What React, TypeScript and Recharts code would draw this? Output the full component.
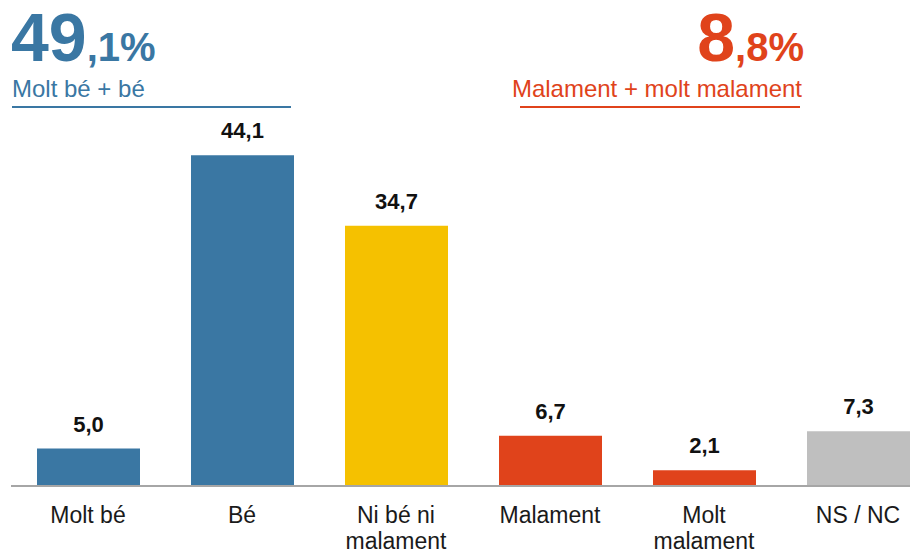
import React from "react";
import { BarChart, Bar, XAxis, YAxis, Cell, LabelList } from "recharts";

const categories = ["Molt bé", "Bé", "Ni bé ni\nmalament", "Malament", "Molt\nmalament", "NS / NC"];
const values = [5.0, 44.1, 34.7, 6.7, 2.1, 7.3];
const summaryPositive = { whole: "49", decimal: ",1%", label: "Molt bé + bé" };
const summaryNegative = { whole: "8", decimal: ",8%", label: "Malament + molt malament" };

const BLUE = "#3a77a3";
const YELLOW = "#f5c100";
const RED = "#e0431b";
const GRAY = "#bfbfbf";
const BAR_COLORS = [BLUE, BLUE, YELLOW, RED, RED, GRAY];
const FONT = "'Liberation Sans', Arial, sans-serif";

const data = categories.map((c, i) => ({ name: c, value: values[i] }));

const fmt = (v: number) => v.toFixed(1).replace(".", ",");

const Tick = (props: any) => {
  const { x, y, payload } = props;
  const lines = String(payload.value).split("\n");
  return (
    <text x={x} y={y} textAnchor="middle" fill="#1a1a1a" fontSize={23} fontFamily={FONT}>
      {lines.map((l, i) => (
        <tspan key={i} x={x} dy={i === 0 ? 37 : 26}>
          {l}
        </tspan>
      ))}
    </text>
  );
};

const ValueLabel = (props: any) => {
  const { x, y, width, value } = props;
  return (
    <text
      x={x + width / 2}
      y={y - 17}
      textAnchor="middle"
      fill="#111"
      fontSize={22}
      fontWeight="bold"
      fontFamily={FONT}
    >
      {fmt(value)}
    </text>
  );
};

export default function App() {
  return (
    <div style={{ position: "relative", width: 910, height: 544, overflow: "hidden", fontFamily: FONT }}>
      <BarChart
        width={930}
        height={544}
        data={data}
        margin={{ top: 103, right: 3, left: 3, bottom: 0 }}
      >
        <XAxis
          dataKey="name"
          interval={0}
          height={66}
          tickLine={false}
          tickSize={0}
          tickMargin={0}
          axisLine={{ stroke: "#a6a6a6", strokeWidth: 2 }}
          tick={<Tick />}
        />
        <YAxis hide domain={[0, 50]} />
        <Bar dataKey="value" barSize={103} isAnimationActive={false}>
          {data.map((d, i) => (
            <Cell key={i} fill={BAR_COLORS[i]} />
          ))}
          <LabelList dataKey="value" content={<ValueLabel />} />
        </Bar>
      </BarChart>
      <svg
        width={910}
        height={120}
        style={{ position: "absolute", left: 0, top: 0, pointerEvents: "none" }}
      >
        <text x={3} y={53} fill={BLUE} fontFamily={FONT} fontWeight="bold" fontSize={68}>
          {summaryPositive.whole}
          <tspan fontSize={40}>{summaryPositive.decimal}</tspan>
        </text>
        <text x={4} y={89} fill={BLUE} fontFamily={FONT} fontSize={24}>
          {summaryPositive.label}
        </text>
        <line x1={4} x2={283} y1={99} y2={99} stroke={BLUE} strokeWidth={2} />
        <text x={796} y={53} textAnchor="end" fill={RED} fontFamily={FONT} fontWeight="bold" fontSize={68}>
          {summaryNegative.whole}
          <tspan fontSize={40}>{summaryNegative.decimal}</tspan>
        </text>
        <text x={794} y={89} textAnchor="end" fill={RED} fontFamily={FONT} fontSize={24}>
          {summaryNegative.label}
        </text>
        <line x1={512} x2={792} y1={99} y2={99} stroke={RED} strokeWidth={2} />
      </svg>
    </div>
  );
}
